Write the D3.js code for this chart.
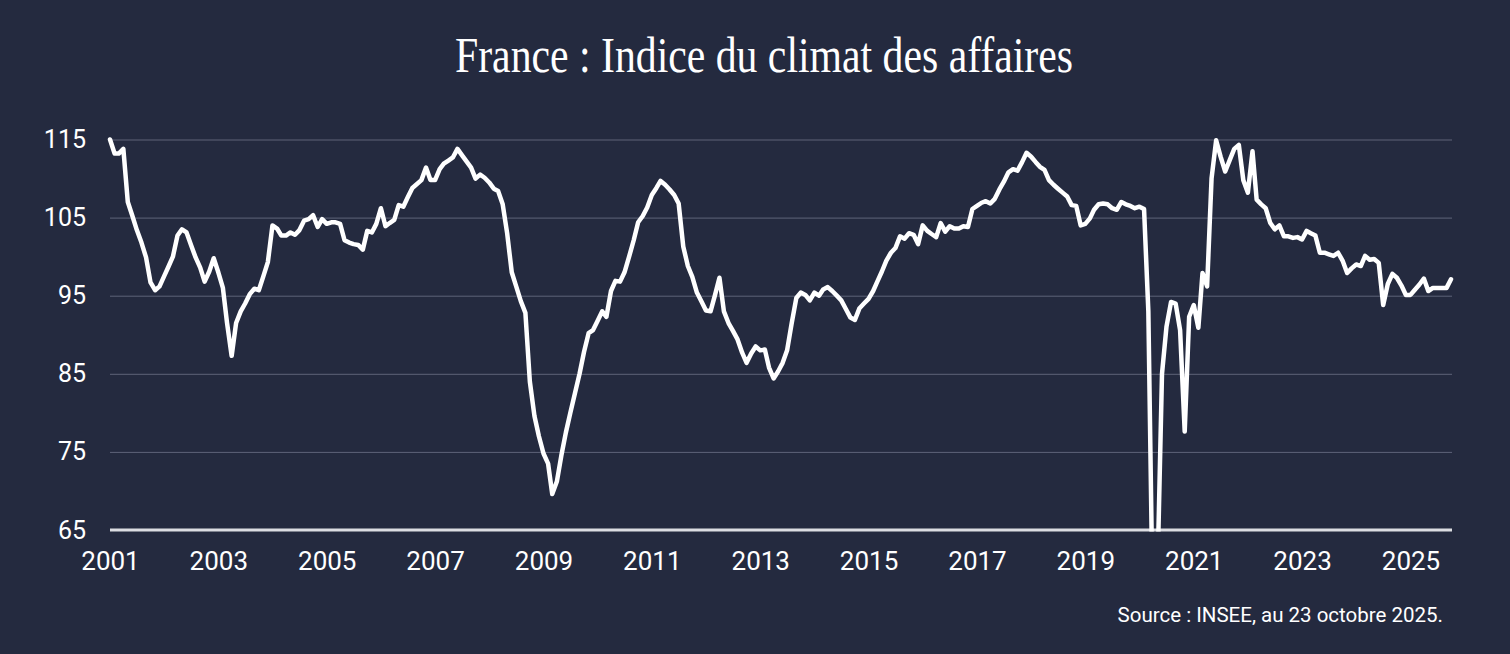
<!DOCTYPE html>
<html>
<head>
<meta charset="utf-8">
<script src="https://cdn.jsdelivr.net/npm/d3@7"></script>
<style>
  html, body { margin: 0; padding: 0; background: #242a3f; }
  svg { display: block; }
</style>
</head>
<body>
<svg id="chart" width="1510" height="654"></svg>
<script>
// ---- Data: INSEE business climate index, monthly, Jan 2001 – Oct 2025 ----
const startYear = 2001;
const values2001_2005 = [
  115.0, 113.2, 113.2, 113.8, 107.0, 105.2, 103.4, 101.8, 99.9, 96.7, 95.7, 96.2,
  97.5, 98.8, 100.0, 102.7, 103.5, 103.1, 101.5, 99.9, 98.6, 96.8, 98.1, 99.8,
  98.0, 96.0, 91.5, 87.3, 91.5, 93.0, 94.0, 95.2, 95.9, 95.7, 97.5, 99.3,
  104.0, 103.6, 102.7, 102.7, 103.1, 102.8, 103.4, 104.6, 104.8, 105.3, 103.8, 104.8,
  104.2, 104.4, 104.4, 104.2, 102.1, 101.8, 101.6, 101.5, 100.9, 103.3, 103.1, 104.2
];
const values2006_2010 = [
  106.2, 103.9, 104.3, 104.7, 106.6, 106.4, 107.6, 108.8, 109.3, 109.8, 111.4, 109.8,
  109.8, 111.2, 111.9, 112.3, 112.7, 113.8, 113.0, 112.2, 111.4, 110.0, 110.5, 110.1,
  109.5, 108.7, 108.4, 106.7, 103.0, 98.0, 96.2, 94.3, 92.8, 84.0, 79.6, 77.0,
  74.8, 73.5, 69.6, 71.2, 74.5, 77.5, 80.0, 82.5, 85.0, 87.8, 90.2, 90.6,
  91.8, 93.0, 92.3, 95.6, 96.9, 96.8, 98.0, 100.0, 102.1, 104.4, 105.2, 106.3
];
const values2011_2015 = [
  107.9, 108.8, 109.7, 109.2, 108.6, 107.9, 106.8, 101.3, 98.8, 97.4, 95.4, 94.3,
  93.1, 93.0, 95.0, 97.3, 93.0, 91.5, 90.5, 89.4, 87.7, 86.4, 87.6, 88.5,
  88.0, 88.1, 85.8, 84.4, 85.3, 86.4, 88.0, 91.5, 94.7, 95.4, 95.1, 94.4,
  95.4, 95.0, 95.8, 96.1, 95.6, 95.0, 94.4, 93.3, 92.2, 91.9, 93.4, 94.0,
  94.6, 95.6, 96.8, 98.1, 99.5, 100.5, 101.1, 102.6, 102.3, 103.0, 102.8, 101.6
];
const values2016_2020 = [
  104.0, 103.3, 102.9, 102.5, 104.3, 103.2, 103.9, 103.6, 103.6, 103.9, 103.8, 106.1,
  106.5, 106.9, 107.1, 106.8, 107.4, 108.6, 109.6, 110.8, 111.2, 111.0, 112.1, 113.3,
  112.8, 112.1, 111.5, 111.1, 109.8, 109.2, 108.7, 108.2, 107.7, 106.6, 106.5, 104.0,
  104.2, 104.9, 106.0, 106.7, 106.8, 106.7, 106.2, 106.0, 107.0, 106.7, 106.5, 106.2,
  106.4, 106.1, 93.0, 53.0, 59.0, 85.0, 91.0, 94.2, 94.0, 90.6, 77.6, 92.3
];
const values2021_2025 = [
  93.8, 90.9, 97.9, 96.2, 110.0, 114.9, 112.8, 110.9, 112.4, 113.8, 114.3, 109.8,
  108.2, 113.5, 107.3, 106.7, 106.2, 104.3, 103.5, 104.0, 102.6, 102.6, 102.4, 102.5,
  102.2, 103.3, 103.0, 102.7, 100.5, 100.5, 100.3, 100.1, 100.5, 99.5, 97.9, 98.5,
  99.0, 98.8, 100.1, 99.6, 99.7, 99.2, 93.8, 96.5, 97.8, 97.3, 96.3, 95.1,
  95.1, 95.8, 96.4, 97.2, 95.6, 96.0, 96.0, 96.0, 96.0, 97.1
];
const xTickLabels = ["2001","2003","2005","2007","2009","2011","2013","2015","2017","2019","2021","2023","2025"];
const yTickValues = [65, 75, 85, 95, 105, 115];
const titleText = "France : Indice du climat des affaires";
const sourceText = "Source : INSEE, au 23 octobre 2025.";

(function draw() {
  const allValues = [].concat(values2001_2005, values2006_2010, values2011_2015, values2016_2020, values2021_2025);
  const series = allValues.map((v, i) => ({ date: new Date(startYear, i, 1), value: v }));

  const svg = d3.select("#chart");
  const W = 1510, H = 654;
  const mLeft = 110, mRight = 1451, mTop = 139.5, mBottom = 530;

  svg.append("rect").attr("width", W).attr("height", H).attr("fill", "#242a3f");

  const x = d3.scaleTime()
    .domain([series[0].date, series[series.length - 1].date])
    .range([mLeft, mRight]);
  const y = d3.scaleLinear().domain([65, 115]).range([mBottom, mTop]);

  // Title (condensed serif)
  svg.append("text")
    .attr("x", 764).attr("y", 72)
    .attr("text-anchor", "middle")
    .attr("font-family", "'Liberation Serif', 'DejaVu Serif', serif")
    .attr("font-size", 50)
    .attr("fill", "#ffffff")
    .attr("textLength", 618)
    .attr("lengthAdjust", "spacingAndGlyphs")
    .text(titleText);

  // Gridlines
  const grid = svg.append("g")
    .attr("transform", `translate(${mLeft},0)`)
    .call(d3.axisLeft(y).tickValues(yTickValues.filter(v => v !== 65)).tickSize(-(mRight - mLeft + 1)).tickFormat(""));
  grid.select(".domain").remove();
  grid.selectAll("line").attr("stroke", "#5e6379").attr("stroke-width", 1);

  // Y axis labels
  const yAxis = svg.append("g")
    .attr("transform", `translate(${mLeft},0)`)
    .call(d3.axisLeft(y).tickValues(yTickValues).tickSize(0).tickPadding(24).tickFormat(d3.format("d")));
  yAxis.select(".domain").remove();
  yAxis.selectAll("text")
    .attr("fill", "#ffffff")
    .attr("font-family", "Roboto, 'Liberation Sans', sans-serif")
    .attr("font-size", 25);

  // Baseline at 65
  svg.append("line")
    .attr("x1", mLeft).attr("x2", mRight + 1)
    .attr("y1", y(65)).attr("y2", y(65))
    .attr("stroke", "#dcdde2").attr("stroke-width", 3);

  // X axis labels
  const xTickDates = xTickLabels.map(s => new Date(+s, 0, 1));
  const xAxis = svg.append("g")
    .attr("transform", `translate(0,${mBottom})`)
    .call(d3.axisBottom(x).tickValues(xTickDates).tickSize(0).tickPadding(22).tickFormat((d, i) => xTickLabels[i]));
  xAxis.select(".domain").remove();
  xAxis.selectAll("text")
    .attr("fill", "#ffffff")
    .attr("font-family", "Roboto, 'Liberation Sans', sans-serif")
    .attr("font-size", 26);

  // Clip for the line (values below 65 are cut at the baseline)
  svg.append("clipPath").attr("id", "plotClip")
    .append("rect").attr("x", 0).attr("y", 0).attr("width", W).attr("height", mBottom + 1.5);

  const line = d3.line().x(d => x(d.date)).y(d => y(d.value));
  svg.append("path")
    .datum(series)
    .attr("clip-path", "url(#plotClip)")
    .attr("fill", "none")
    .attr("stroke", "#ffffff")
    .attr("stroke-width", 4.5)
    .attr("stroke-linejoin", "round")
    .attr("stroke-linecap", "round")
    .attr("d", line);

  // Source
  svg.append("text")
    .attr("x", 1443).attr("y", 622)
    .attr("text-anchor", "end")
    .attr("font-family", "Roboto, 'Liberation Sans', sans-serif")
    .attr("font-size", 20.5)
    .attr("fill", "#ffffff")
    .text(sourceText);
})();
</script>
</body>
</html>
